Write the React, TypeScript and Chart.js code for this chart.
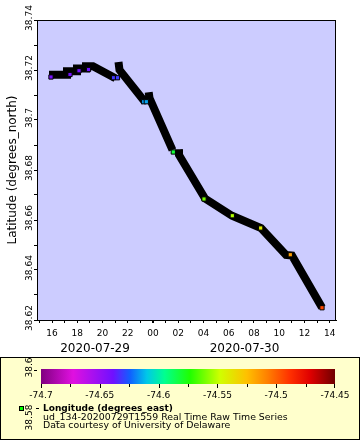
import React, { useEffect, useRef } from "react";
import { Chart, registerables } from "chart.js";

Chart.register(...registerables);

const FONT = "'DejaVu Sans', sans-serif";

// Time axis: hours since 2020-07-29 00:00
const xMinHour = 14.805;
const xMaxHour = 38.498;
const xTickHours = [15, 16, 17, 18, 19, 20, 21, 22, 23, 24, 25, 26, 27, 28, 29, 30, 31, 32, 33, 34, 35, 36, 37, 38];
const dayLabels = ["2020-07-29", "2020-07-30"];
const dayStartHours = [0, 24];

const latMin = 38.62;
const latMax = 38.74;
const yTickValues = [38.62, 38.63, 38.64, 38.65, 38.66, 38.67, 38.68, 38.69, 38.7, 38.71, 38.72, 38.73, 38.74];
const extraLatLabels = [38.6, 38.58];

// Track (null latitude = break in the line)
const trackHours = [
  15.756, 17.182, 17.182, 17.975, 17.975, 18.688, 18.688, 19.242, 21.02, 21.1,
  21.263, 21.342, 23.363, 23.5,
  23.656, 23.72, 25.542, 25.8,
  26.017, 26.057, 28.117, 30.257, 32.555, 34.536, 35.011, 37.388,
];
const trackLats: (number | null)[] = [
  38.7181, 38.7181, 38.7195, 38.7195, 38.7206, 38.7206, 38.72148, 38.72148, 38.7167, null,
  38.7232, 38.72, 38.7072, null,
  38.71108, 38.7088, 38.688, null,
  38.68828, 38.686, 38.6686, 38.6617, 38.6568, 38.646, 38.6458, 38.625,
];

// Markers coloured by longitude
const markerHours = [15.914, 17.42, 18.133, 18.886, 20.867, 21.184, 23.26, 23.466, 25.605, 28.038, 30.28, 32.531, 34.876, 37.388];
const markerLats = [38.7172, 38.7182, 38.7197, 38.7202, 38.7169, 38.7169, 38.7073, 38.7073, 38.6872, 38.6684, 38.6617, 38.6568, 38.6461, 38.6249];
const markerLons = [-74.641, -74.64, -74.64, -74.639, -74.632, -74.631, -74.616, -74.615, -74.582, -74.561, -74.552, -74.541, -74.516, -74.494];

// Colour palette (longitude)
const lonMin = -74.7;
const lonMax = -74.45;
const paletteStops = [0, 0.109, 0.245, 0.303, 0.36, 0.42, 0.507, 0.609, 0.7, 0.77, 0.847, 0.915, 1];
const paletteColors = ["#800080", "#e010e0", "#7010ff", "#1060ff", "#00c8e8", "#00ff90", "#20ff00", "#d0ff00", "#ffc000", "#ff8000", "#ff3000", "#e00000", "#700000"];
const colorbarMajor = [-74.7, -74.65, -74.6, -74.55, -74.5, -74.45];
const colorbarMinor = [-74.675, -74.625, -74.575, -74.525, -74.475];

const legendTitle = "Longitude (degrees_east)";
const legendLines = ["ud_134-20200729T1559 Real Time Raw Time Series", "Data courtesy of University of Delaware"];

function hexToRgb(h: string) {
  const n = parseInt(h.slice(1), 16);
  return [(n >> 16) & 255, (n >> 8) & 255, n & 255];
}

function lonColor(lon: number) {
  const f = Math.min(1, Math.max(0, (lon - lonMin) / (lonMax - lonMin)));
  for (let i = 1; i < paletteStops.length; i++) {
    if (f <= paletteStops[i]) {
      const t = (f - paletteStops[i - 1]) / (paletteStops[i] - paletteStops[i - 1]);
      const a = hexToRgb(paletteColors[i - 1]);
      const b = hexToRgb(paletteColors[i]);
      const c = a.map((v, k) => Math.round(v + (b[k] - v) * t));
      return `rgb(${c[0]},${c[1]},${c[2]})`;
    }
  }
  return paletteColors[paletteColors.length - 1];
}

const pad2 = (n: number) => (n < 10 ? "0" + n : String(n));

const framePlugin = {
  id: "frame",
  beforeDraw(chart: any) {
    const { ctx, chartArea: a } = chart;
    ctx.save();
    ctx.fillStyle = "#ffffff";
    ctx.fillRect(0, 0, chart.width, chart.height);
    ctx.fillStyle = "#ccccff";
    ctx.fillRect(a.left, a.top, a.right - a.left, a.bottom - a.top);
    ctx.restore();
  },
  afterDraw(chart: any) {
    const { ctx, chartArea: a } = chart;
    ctx.save();
    ctx.strokeStyle = "#000";
    ctx.lineWidth = 1;
    ctx.strokeRect(Math.round(a.left) + 0.5, Math.round(a.top) + 0.5, Math.round(a.right - a.left) - 1, Math.round(a.bottom - a.top));

    // legend box
    ctx.fillStyle = "#ffffcc";
    ctx.fillRect(0, 357, 360, 83);
    ctx.strokeRect(0.5, 357.5, 359, 82);

    // colour bar
    const cbL = 41, cbR = 335, cbT = 369, cbB = 384;
    const g = ctx.createLinearGradient(cbL, 0, cbR, 0);
    paletteStops.forEach((s, i) => g.addColorStop(s, paletteColors[i]));
    ctx.fillStyle = g;
    ctx.fillRect(cbL, cbT, cbR - cbL, cbB - cbT);
    const lonPx = (v: number) => cbL + ((v - lonMin) / (lonMax - lonMin)) * (cbR - cbL);
    ctx.fillStyle = "#000";
    colorbarMajor.forEach((v) => ctx.fillRect(Math.min(Math.round(lonPx(v)), cbR - 1), cbB, 1, 4));
    colorbarMinor.forEach((v) => ctx.fillRect(Math.round(lonPx(v)), cbB, 1, 3));
    ctx.font = `9px ${FONT}`;
    ctx.textAlign = "center";
    ctx.textBaseline = "alphabetic";
    colorbarMajor.forEach((v) => ctx.fillText(String(v), lonPx(v), 397.5));

    // leaked latitude labels
    const ys = chart.scales.y;
    extraLatLabels.forEach((v, i) => {
      const py = ys.getPixelForValue(v);
      ctx.save();
      ctx.translate(29.5, py - 2.5);
      ctx.rotate(-Math.PI / 2);
      ctx.textAlign = "center";
      ctx.textBaseline = "middle";
      ctx.fillText(String(v), 0, 0);
      ctx.restore();
      if (i === 0) ctx.fillRect(34, Math.round(py), 3, 1);
    });

    // legend sample marker
    ctx.fillStyle = "#000";
    ctx.fillRect(19, 406, 5, 5);
    ctx.fillStyle = "#00ff00";
    ctx.fillRect(20, 407, 3, 3);
    ctx.fillStyle = "#000";
    ctx.fillRect(36, 408, 3, 1);

    ctx.textAlign = "left";
    ctx.font = `bold 9px ${FONT}`;
    ctx.fillText(legendTitle, 43, 411);
    ctx.font = `9.4px ${FONT}`;
    ctx.fillText(legendLines[0], 43, 419.5);
    ctx.fillText(legendLines[1], 43, 428);
    ctx.restore();
  },
};

export default function App() {
  const ref = useRef<HTMLCanvasElement>(null);

  useEffect(() => {
    if (!ref.current) return;
    Chart.defaults.font.family = FONT;
    Chart.defaults.color = "#000";

    const track = trackHours.map((h, i) => ({ x: h, y: trackLats[i] }));
    const markers = markerHours.map((h, i) => ({ x: h, y: markerLats[i] }));
    const markerColors = markerLons.map(lonColor);
    const dayCenters = dayStartHours.map((s) => (Math.max(xMinHour, s) + Math.min(xMaxHour, s + 24)) / 2);

    const chart = new Chart(ref.current, {
      type: "line",
      data: {
        datasets: [
          {
            data: markers,
            showLine: false,
            pointStyle: "rect",
            pointRadius: 3,
            pointBackgroundColor: markerColors,
            pointBorderColor: "#000",
            pointBorderWidth: 1,
          } as any,
          {
            data: track,
            borderColor: "#000",
            borderWidth: 8,
            pointRadius: 0,
            spanGaps: false,
            tension: 0,
            borderJoinStyle: "miter",
            borderCapStyle: "butt",
          } as any,
        ],
      },
      options: {
        animation: false,
        responsive: false,
        events: [],
        layout: { padding: { left: 0, top: 20, right: 24, bottom: 80 } },
        plugins: { legend: { display: false }, tooltip: { enabled: false } },
        scales: {
          x: {
            type: "linear",
            position: "bottom",
            weight: 0,
            min: xMinHour,
            max: xMaxHour,
            afterBuildTicks: (s: any) => {
              s.ticks = xTickHours.map((v) => ({ value: v }));
            },
            afterFit: (s: any) => {
              s.height = 20;
            },
            ticks: {
              autoSkip: false,
              maxRotation: 0,
              minRotation: 0,
              padding: 5,
              font: { size: 9 },
              color: "#000",
              callback: (v: any) => (Number(v) % 2 === 0 ? pad2(Number(v) % 24) : ""),
            },
            grid: {
              drawOnChartArea: false,
              drawTicks: true,
              tickLength: 3,
              color: "#000",
              lineWidth: (c: any) => (c.tick && c.tick.value % 24 === 0 ? 2 : 1),
            },
            border: { display: true, color: "#000", width: 1 },
          },
          x2: {
            type: "linear",
            position: "bottom",
            weight: 1,
            min: xMinHour,
            max: xMaxHour,
            afterBuildTicks: (s: any) => {
              s.ticks = dayCenters.map((v) => ({ value: v }));
            },
            afterFit: (s: any) => {
              s.height = 20;
            },
            ticks: {
              autoSkip: false,
              maxRotation: 0,
              minRotation: 0,
              padding: 2,
              font: { size: 12 },
              color: "#000",
              callback: (_v: any, i: number) => dayLabels[i],
            },
            grid: { display: false, drawTicks: false, drawOnChartArea: false },
            border: { display: false },
          },
          y: {
            type: "linear",
            position: "left",
            min: latMin,
            max: latMax,
            afterBuildTicks: (s: any) => {
              s.ticks = yTickValues.map((v) => ({ value: v }));
            },
            afterFit: (s: any) => {
              s.width = 37;
            },
            ticks: {
              autoSkip: false,
              minRotation: 90,
              maxRotation: 90,
              crossAlign: "center",
              padding: -8.4,
              labelOffset: -2,
              font: { size: 9 },
              color: "#000",
              callback: (v: any) => {
                const n = Math.round(Number(v) * 100);
                return n % 2 === 0 ? String(n / 100) : "";
              },
            },
            grid: { drawOnChartArea: false, drawTicks: true, tickLength: 3, color: "#000" },
            border: { display: true, color: "#000", width: 1 },
            title: {
              display: true,
              text: "Latitude (degrees_north)",
              font: { size: 12 },
              color: "#000",
              padding: { top: 6, bottom: 0 },
            },
          },
        },
      } as any,
      plugins: [framePlugin],
    });
    return () => chart.destroy();
  }, []);

  return (
    <div style={{ position: "absolute", left: 0, top: 0, width: 360, height: 440 }}>
      <canvas ref={ref} width={360} height={440} style={{ width: 360, height: 440, display: "block" }} />
    </div>
  );
}
